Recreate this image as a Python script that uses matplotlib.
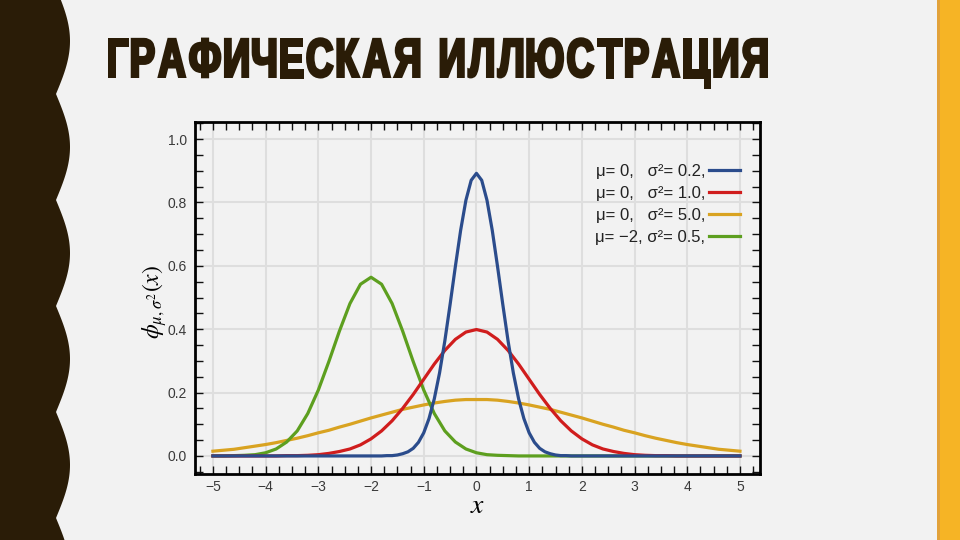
import numpy as np
import matplotlib
matplotlib.use("Agg")
import matplotlib.pyplot as plt
from matplotlib.ticker import MultipleLocator
from matplotlib.textpath import TextPath
from matplotlib.patches import PathPatch
from matplotlib.font_manager import FontProperties
from matplotlib.transforms import Affine2D

x_wide = np.linspace(-5, 5, 51)
red_y = [0.000, 0.000, 0.000, 0.000, 0.000, 0.000, 0.000, 0.001, 0.001, 0.002,
         0.004, 0.008, 0.014, 0.022, 0.035, 0.054, 0.079, 0.111, 0.150, 0.194,
         0.242, 0.290, 0.333, 0.368, 0.391, 0.399, 0.391, 0.368, 0.333, 0.290,
         0.242, 0.194, 0.150, 0.111, 0.079, 0.054, 0.035, 0.022, 0.014, 0.008,
         0.004, 0.002, 0.001, 0.001, 0.000, 0.000, 0.000, 0.000, 0.000, 0.000,
         0.000]
gold_y = [0.015, 0.018, 0.021, 0.026, 0.031, 0.036, 0.042, 0.049, 0.056, 0.064,
          0.073, 0.081, 0.091, 0.100, 0.110, 0.120, 0.129, 0.138, 0.147, 0.154,
          0.161, 0.167, 0.172, 0.176, 0.178, 0.178, 0.178, 0.176, 0.172, 0.167,
          0.161, 0.154, 0.147, 0.138, 0.129, 0.120, 0.110, 0.100, 0.091, 0.081,
          0.073, 0.064, 0.056, 0.049, 0.042, 0.036, 0.031, 0.026, 0.021, 0.018,
          0.015]
green_y = [0.000, 0.000, 0.001, 0.002, 0.004, 0.010, 0.022, 0.044, 0.079, 0.134,
           0.208, 0.298, 0.394, 0.481, 0.542, 0.564, 0.542, 0.481, 0.394, 0.298,
           0.208, 0.134, 0.079, 0.044, 0.022, 0.010, 0.004, 0.002, 0.001, 0.000,
           0.000, 0.000, 0.000, 0.000, 0.000, 0.000, 0.000, 0.000, 0.000, 0.000,
           0.000, 0.000, 0.000, 0.000, 0.000, 0.000, 0.000, 0.000, 0.000, 0.000,
           0.000]
# narrow curve sampled finer (step 0.1 between -2 and 2)
x_blue = [-5.0] + list(np.linspace(-2, 2, 41)) + [5.0]
blue_y = [0.000,
          0.000, 0.000, 0.000, 0.001, 0.001, 0.003, 0.007, 0.013, 0.024, 0.043,
          0.073, 0.118, 0.180, 0.262, 0.363, 0.478, 0.598, 0.712, 0.807, 0.870,
          0.892,
          0.870, 0.807, 0.712, 0.598, 0.478, 0.363, 0.262, 0.180, 0.118, 0.073,
          0.043, 0.024, 0.013, 0.007, 0.003, 0.001, 0.001, 0.000, 0.000, 0.000,
          0.000]

labels = ["μ= 0,   σ²= 0.2,", "μ= 0,   σ²= 1.0,",
          "μ= 0,   σ²= 5.0,", "μ= −2, σ²= 0.5,"]
colors = ["#2b4c8c", "#d01d1d", "#d9a321", "#5d9f1f"]

title = "ГРАФИЧЕСКАЯ ИЛЛЮСТРАЦИЯ"

plt.rcParams['font.family'] = ['Liberation Sans', 'DejaVu Sans']
plt.rcParams['mathtext.fontset'] = 'stix'

bg = "#f2f2f2"
dark = "#2a1c07"
W, H = 960, 540
fig = plt.figure(figsize=(9.6, 5.4), dpi=100, facecolor=bg)

# slide decoration: wavy dark band on the left, gold stripe on the right
deco = fig.add_axes([0, 0, 1, 1], zorder=-5)
deco.set_xlim(0, W)
deco.set_ylim(H, 0)
deco.axis('off')
yy = np.linspace(0, H, 800)
edge = 56 + 14 * np.abs(np.sin(np.pi * (yy + 12) / 106))
deco.fill_betweenx(yy, 0, edge, color=dark, lw=0)
deco.axvspan(937, W, color="#f6b425", lw=0)
deco.axvspan(937, 940, color="#e2a23a", lw=0)

# title: heavy condensed caps, drawn letter by letter
fp = FontProperties(family='Liberation Sans', weight='bold')
glyphs = [None if ch == ' ' else TextPath((0, 0), ch, size=54, prop=fp) for ch in title]
ink = [0 if g is None else g.get_extents().width for g in glyphs]
gap, space, stroke = 2.5, 19.0, 3.0
n_gaps = sum(1 for i in range(len(title) - 1) if title[i] != ' ' and title[i + 1] != ' ')
letters = [g for g in glyphs if g is not None]
sx = (661 - gap * n_gaps - space - stroke * len(letters)) / sum(ink)
x = 107 + stroke / 2
for i, g in enumerate(glyphs):
    if g is None:
        x += space - gap
        continue
    ext = g.get_extents()
    tr = Affine2D().translate(-ext.x0, 0).scale(sx, -1).translate(x, 76.5)
    deco.add_patch(PathPatch(g, transform=tr + deco.transData, facecolor=dark,
                             edgecolor=dark, lw=stroke * 0.72, joinstyle='miter'))
    x += ext.width * sx + stroke + gap

ax = fig.add_axes([195 / W, 1 - 474 / H, 565 / W, 352 / H])
ax.set_facecolor(bg)
ax.plot(x_wide, gold_y, color=colors[2], lw=2.3, zorder=3)
ax.plot(x_wide, green_y, color=colors[3], lw=2.3, zorder=4)
ax.plot(x_wide, red_y, color=colors[1], lw=2.3, zorder=5)
ax.plot(x_blue, blue_y, color=colors[0], lw=2.3, zorder=6)

ax.set_xlim(-5.34, 5.38)
ax.set_ylim(-0.057, 1.054)
ax.xaxis.set_minor_locator(MultipleLocator(0.25))
ax.yaxis.set_minor_locator(MultipleLocator(0.05))
ax.xaxis.remove_overlapping_locs = False
ax.yaxis.remove_overlapping_locs = False
ax.set_xticks(range(-5, 6))
ax.set_xticklabels([str(v).replace('-', '−') for v in range(-5, 6)])
ax.set_yticks([0.0, 0.2, 0.4, 0.6, 0.8, 1.0])
ax.set_yticklabels(["0.0", "0.2", "0.4", "0.6", "0.8", "1.0"])
ax.tick_params(which='major', length=0, labelsize=10, labelcolor="#3a3a3a")
ax.tick_params(axis='y', which='major', pad=6)
ax.tick_params(axis='x', which='major', pad=4)
ax.tick_params(which='minor', direction='in', length=6, width=1,
               top=True, right=True, color="#111111")
ax.grid(True, which='major', color="#dedede", lw=1.5)
ax.set_axisbelow(True)
for s in ax.spines.values():
    s.set_linewidth(2)
    s.set_color("black")

ax.set_ylabel(r"$\phi_{\mu,\sigma^2}(x)$", fontsize=17)
ax.yaxis.set_label_coords(-0.046, 0.489)
ax.set_xlabel(r"$x$", fontsize=20)
ax.xaxis.set_label_coords(0.5, -0.054)

handles = [plt.Line2D([], [], color=c, lw=2.3) for c in colors]
ax.legend(handles, labels, loc='upper right', frameon=False,
          bbox_to_anchor=(740 / W, 1 - 164 / H), bbox_transform=fig.transFigure,
          markerfirst=False, fontsize=12, handlelength=1.85, handletextpad=0.25,
          labelspacing=0.42, borderpad=0, borderaxespad=0, labelcolor="#222222")

fig.savefig("out.png", dpi=100, facecolor=bg)
